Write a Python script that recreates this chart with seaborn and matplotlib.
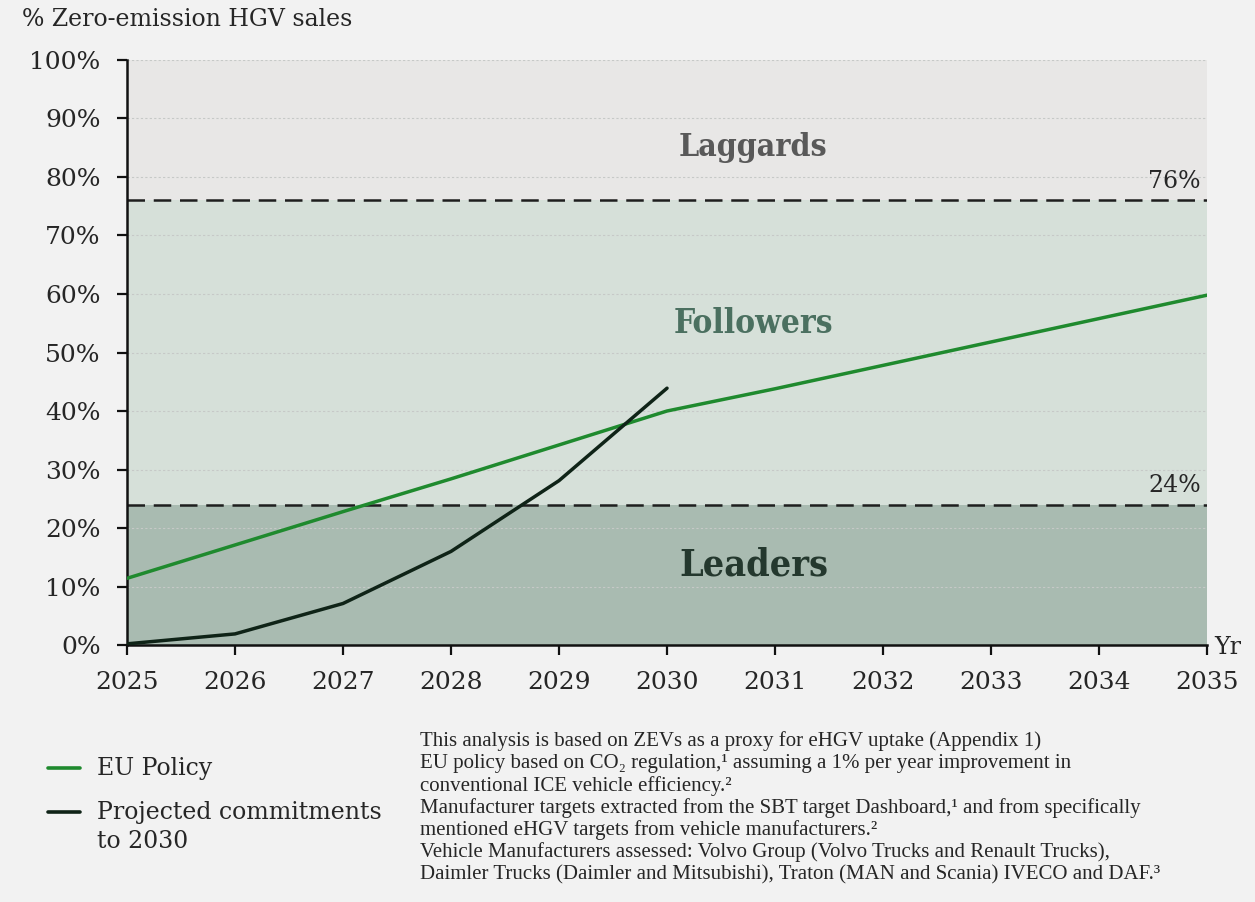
import matplotlib
matplotlib.use("Agg")
import matplotlib.pyplot as plt
from matplotlib.lines import Line2D
import seaborn as sns
import pandas as pd

# Data
years = [2025, 2026, 2027, 2028, 2029, 2030, 2031, 2032, 2033, 2034, 2035]
eu_policy = [11.4, 17.1, 22.8, 28.4, 34.2, 40.0, 43.8, 47.8, 51.8, 55.8, 59.8]
commit_years = [2025, 2026, 2027, 2028, 2029, 2030]
commitments = [0.2, 1.9, 7.1, 16.0, 28.1, 43.9]
y_ticks = [0, 10, 20, 30, 40, 50, 60, 70, 80, 90, 100]
upper_threshold = 76
lower_threshold = 24
band_names = ["Laggards", "Followers", "Leaders"]
series_names = ["EU Policy", "Projected commitments\nto 2030"]
notes = [
    "This analysis is based on ZEVs as a proxy for eHGV uptake (Appendix 1)",
    "EU policy based on CO₂ regulation,¹ assuming a 1% per year improvement in",
    "conventional ICE vehicle efficiency.²",
    "Manufacturer targets extracted from the SBT target Dashboard,¹ and from specifically",
    "mentioned eHGV targets from vehicle manufacturers.²",
    "Vehicle Manufacturers assessed: Volvo Group (Volvo Trucks and Renault Trucks),",
    "Daimler Trucks (Daimler and Mitsubishi), Traton (MAN and Scania) IVECO and DAF.³",
]
line_colors = ["#1f8a2e", "#0f2317"]

df = pd.concat([
    pd.DataFrame({"year": years, "share": eu_policy, "series": series_names[0]}),
    pd.DataFrame({"year": commit_years, "share": commitments, "series": series_names[1]}),
])

sns.set_theme(style="white")
plt.rcParams["font.family"] = ["DejaVu Serif"]

BG = "#f2f2f2"
TXT = "#262626"
fig = plt.figure(figsize=(12.55, 9.02), dpi=100, facecolor=BG)
ax = fig.add_axes([0.1012, 0.2849, 0.8606, 0.6486])
ax.set_facecolor(BG)

x0, x1 = years[0], years[-1]
ax.set_xlim(x0, x1)
ax.set_ylim(0, 100)

# Zones
ax.axhspan(upper_threshold, 100, color="#e8e7e6", zorder=0.2, lw=0)
ax.axhspan(lower_threshold, upper_threshold, color="#d6e0d9", zorder=0.2, lw=0)
ax.axhspan(0, lower_threshold, color="#a9bbb1", zorder=0.2, lw=0)

# Light dotted gridlines
for v in y_ticks[1:]:
    ax.axhline(v, color="#c6c9c7", lw=0.8, ls=(0, (2, 2)), zorder=0.5)

# Threshold lines
for v in (upper_threshold, lower_threshold):
    ax.axhline(v, color="#1e1e1e", lw=1.8, ls=(0, (7, 3.5)), zorder=2)
    ax.text(x1 - 0.06, v + 1.3, f"{v}%", ha="right", va="bottom",
            fontsize=17, color=TXT, zorder=3)

sns.lineplot(data=df, x="year", y="share", hue="series",
             palette=line_colors, linewidth=2.5, ax=ax,
             legend=False, zorder=4, sort=False)

# Zone labels
mid = 2030.8
ax.text(mid, 85, band_names[0], ha="center", va="center", fontsize=23,
        fontweight="bold", fontstretch="condensed", color="#595959")
ax.text(mid, 55, band_names[1], ha="center", va="center", fontsize=24,
        fontweight="bold", fontstretch="condensed", color="#4b7060")
ax.text(mid, 13.6, band_names[2], ha="center", va="center", fontsize=27,
        fontweight="bold", fontstretch="condensed", color="#24382e")

ax.set_xticks(years)
ax.set_yticks(y_ticks)
ax.set_yticklabels([f"{v}%" for v in y_ticks])
ax.tick_params(axis="both", which="major", labelsize=18, length=7, width=1.6,
               color="#111111", labelcolor=TXT, direction="out",
               left=True, bottom=True)
ax.tick_params(axis="x", pad=12)
ax.tick_params(axis="y", pad=12)
ax.set_xlabel("")
ax.set_ylabel("")
for s in ("top", "right"):
    ax.spines[s].set_visible(False)
for s in ("left", "bottom"):
    ax.spines[s].set_color("#111111")
    ax.spines[s].set_linewidth(1.8)

fig.text(22 / 1255, 1 - 20 / 902, "% Zero-emission HGV sales", fontsize=17,
         color=TXT, va="center", ha="left")
fig.text(1214 / 1255, 1 - 648 / 902, "Yr", fontsize=17, color=TXT,
         va="center", ha="left")

# Legend
for i, (name, col) in enumerate(zip(series_names, line_colors)):
    yy = 1 - (768 + i * 44) / 902
    fig.add_artist(Line2D([48 / 1255, 80 / 1255], [yy, yy], color=col, lw=2.6,
                          transform=fig.transFigure))
    fig.text(97 / 1255, yy + 0.012, name, fontsize=17, color=TXT, va="top",
             ha="left", linespacing=1.3)

for i, line in enumerate(notes):
    fig.text(420 / 1255, 1 - (741 + i * 22.3) / 902, line, fontsize=15,
             family=["Liberation Serif", "DejaVu Serif"], color=TXT,
             va="center", ha="left")

fig.savefig("out.png", dpi=100, facecolor=BG)
